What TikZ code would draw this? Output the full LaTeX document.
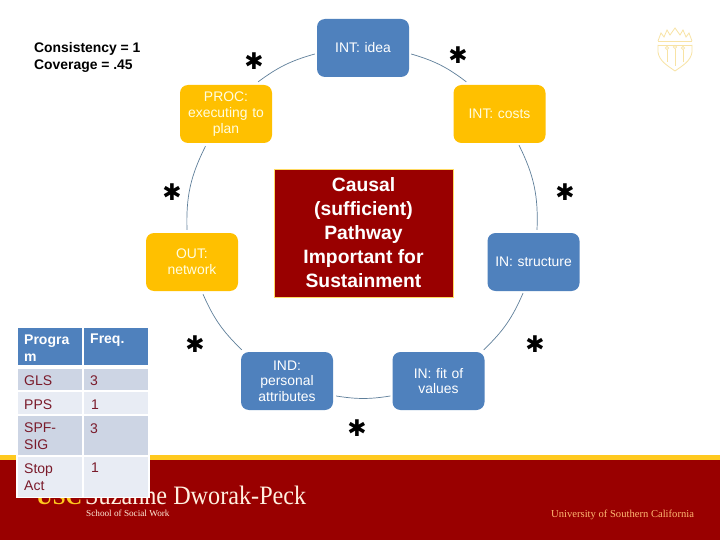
\documentclass[tikz,border=0pt]{standalone}
\usepackage{fontspec}
\setmainfont{Liberation Sans}
\newfontfamily\serifl{Liberation Serif}
\newfontfamily\starf{DejaVu Sans}
\definecolor{usred}{HTML}{990000}
\definecolor{usgold}{HTML}{FFC91F}
\definecolor{nblue}{HTML}{4F81BD}
\definecolor{nyel}{HTML}{FFC000}
\definecolor{cone}{HTML}{CDD5E4}
\definecolor{ctwo}{HTML}{E8ECF4}
\definecolor{ctxt}{HTML}{7A1A2A}
\definecolor{conn}{HTML}{5F7F9A}
\definecolor{shld}{HTML}{F8E3A4}
\tikzset{
  x=1pt,y=-1pt,
  boxn/.style={rounded corners=8pt,minimum width=92pt,minimum height=58pt,inner sep=2pt,
    text=white,align=center,text width=86pt,font=\fontsize{13.9}{15.6}\selectfont},
  bluen/.style={boxn,fill=nblue},
  yeln/.style={boxn,fill=nyel,text=white!88!yellow},
  link/.style={draw=conn,line width=0.7pt},
  starn/.style={font=\starf\fontsize{23}{23}\selectfont,text=black,inner sep=0pt},
  tcell/.style={anchor=west,inner sep=0pt,align=left,text=ctxt,font=\fontsize{14}{17}\selectfont},
  thead/.style={tcell,text=white,font=\bfseries\fontsize{14}{17}\selectfont},
}
\begin{document}
\begin{tikzpicture}
\useasboundingbox (0,0) rectangle (720,540);
\fill[white] (0,0) rectangle (720,540);
% footer band
\fill[usred] (0,460) rectangle (720,540);
\fill[usgold] (0,455) rectangle (720,460);
\node[anchor=base west,inner sep=0pt,text=usgold] (uscl) at (36,504) {\serifl\bfseries\fontsize{23}{23}\selectfont USC};
\node[anchor=base west,inner sep=0pt,text=white!88!orange] (dwl) at (85,504) {\scalebox{0.91}[1]{\serifl\fontsize{26.6}{27}\selectfont Suzanne Dworak-Peck}};
\node[anchor=base west,inner sep=0pt,text=white!85!orange] (ssw) at (86,516) {\serifl\fontsize{9.2}{10}\selectfont School of Social Work};
\node[anchor=base west,inner sep=0pt,text=orange!55!white] (usc) at (551,517) {\serifl\fontsize{10.6}{11}\selectfont University of Southern California};
% shield
\begin{scope}[draw=shld,line width=0.8pt]
\draw (658,41) -- (692,41) (658,45) -- (692,45);
\draw (658,45) -- (658,52) .. controls (659,61) and (668,66) .. (675,71) .. controls (682,66) and (691,61) .. (692,52) -- (692,45);
\draw (658,41) -- (661,33) -- (664,37) -- (667,30) -- (670,35) -- (675,28) -- (680,35) -- (683,30) -- (686,37) -- (689,33) -- (692,41);
\draw (667,50) -- (667,62) (675,49) -- (675,66) (683,50) -- (683,62);
\draw (667,48) circle (1.6) (675,47) circle (1.6) (683,48) circle (1.6);
\end{scope}
% header text
\node[anchor=west,inner sep=0pt,font=\bfseries\fontsize{13.9}{18}\selectfont] (cons) at (34,49) {Consistency = 1};
\node[anchor=west,inner sep=0pt,font=\bfseries\fontsize{13.9}{18}\selectfont] (cove) at (34,66) {Coverage = .45};
% cycle nodes
\node[bluen] (idea) at (363,48) {INT: idea};
\node[yeln] (proc) at (226,114) {\raisebox{-2pt}{PROC:}\\\raisebox{-2pt}{executing to}\\\raisebox{-2pt}{plan}};
\node[yeln] (costs) at (499.5,114) {\raisebox{-1pt}{INT: costs}};
\node[yeln] (outn) at (192,262) {OUT:\\network};
\node[bluen] (stru) at (533.5,262) {\raisebox{-1pt}{IN: structure}};
\node[bluen] (indn) at (287,381) {IND:\\personal\\attributes};
\node[bluen] (fitn) at (438.5,381) {IN: fit of\\values};
\node[draw=usgold!70!white,line width=0.8pt,fill=usred,text=white,minimum width=179pt,minimum height=128pt,
  inner sep=0pt,align=center,font=\bfseries\fontsize{19.3}{24}\selectfont] (core) at (363.5,233)
  {Causal\\(sufficient)\\Pathway\\Important for\\Sustainment};
% connectors (clockwise)
\draw[link] ([shift={(-14,-3)}]proc.north east) to[bend left=10.5] ([shift={(-2,6)}]idea.west);
\draw[link] ([shift={(2,6)}]idea.east) to[bend left=10.5] ([shift={(13,-3)}]costs.north west);
\draw[link] ([shift={(19.5,2)}]costs.south) to[bend left=14.4] ([shift={(3.5,-3)}]stru.north);
\draw[link] ([shift={(-10.5,2)}]stru.south) to[bend left=11.5] ([shift={(-1,-2)}]fitn.north east);
\draw[link] ([shift={(-2,15)}]fitn.west) to[bend left=9] ([shift={(3,15)}]indn.east);
\draw[link] ([shift={(1,-2)}]indn.north west) to[bend left=11.2] ([shift={(11,3)}]outn.south);
\draw[link] ([shift={(-5,-3)}]outn.north) to[bend left=14.2] ([shift={(-20.5,3)}]proc.south);
% asterisks
\node[starn] (s1) at (254,61) {✱};
\node[starn] (s2) at (458,55) {✱};
\node[starn] (s3) at (172,192) {✱};
\node[starn] (s4) at (565,192) {✱};
\node[starn] (s5) at (195,344) {✱};
\node[starn] (s6) at (535,344) {✱};
\node[starn] (s7) at (357,428) {✱};
% table
\fill[white] (16,326) rectangle (150,498);
\fill[nblue] (18,328) rectangle (82,365);
\fill[nblue] (84,328) rectangle (148,365);
\fill[cone] (18,369) rectangle (82,390);
\fill[cone] (84,369) rectangle (148,390);
\fill[ctwo] (18,392) rectangle (82,414);
\fill[ctwo] (84,392) rectangle (148,414);
\fill[cone] (18,416) rectangle (82,455);
\fill[cone] (84,416) rectangle (148,455);
\fill[ctwo] (18,457) rectangle (82,497);
\fill[ctwo] (84,457) rectangle (148,497);
\node[thead] (t11) at (24,348) {Progra\\m};
\node[thead] (t12) at (90,340) {Freq.};
\node[tcell] (t21) at (24,381) {GLS};
\node[tcell] (t22) at (90,381) {3};
\node[tcell] (t31) at (24,405) {PPS};
\node[tcell] (t32) at (91,405) {1};
\node[tcell] (t41) at (24,436.5) {SPF-\\SIG};
\node[tcell] (t42) at (90,429) {3};
\node[tcell] (t51) at (24,477) {Stop\\Act};
\node[tcell] (t52) at (91,468) {1};
\end{tikzpicture}
\end{document}
